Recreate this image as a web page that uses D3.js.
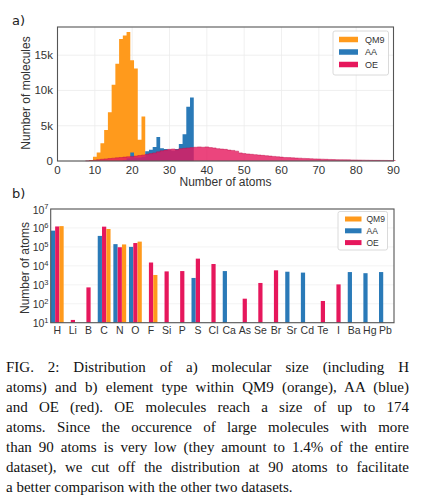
<!DOCTYPE html>
<html>
<head>
<meta charset="utf-8">
<script src="https://cdn.jsdelivr.net/npm/d3@7"></script>
<style>
  body { margin: 0; background: #fff; width: 423px; height: 498px; overflow: hidden; position: relative; }
  svg { position: absolute; left: 0; top: 0; }
  .cap { position: absolute; left: 6px; width: 403px; font-family: "Liberation Serif", "Times New Roman", serif;
         font-size: 15px; line-height: 20px; color: #111; text-align: justify; text-align-last: justify; white-space: nowrap; }
  .cap.last { text-align-last: left; }
</style>
</head>
<body>
<script>
// ---- panel a: molecule size histograms (one bin per atom count) ----
const atomTicks = [0, 10, 20, 30, 40, 50, 60, 70, 80, 90];
const countTicks = [0, 5000, 10000, 15000];

const qm9Start = 9;
const qm9Counts = [150, 600, 1200, 2500, 4400, 6900, 10800, 13800, 17300, 17800, 18300,
                   14300, 13100, 3000, 6300, 150, 50, 20];

const aaStart = 18;
const aaCounts = [100, 400, 1200, 500, 500, 600, 1400, 1600, 2000, 3400, 1800, 1700,
                  1600, 1500, 1700, 2400, 3800, 7700, 9000];

const oeStart = 8;
const oeCounts = [20, 60, 120, 180, 250, 300, 350, 400, 450, 500, 550, 600, 650, 700, 780,
                  850, 950, 1050, 1150, 1300, 1450, 1550, 1650, 1700, 1600, 1750, 1800, 1850,
                  1900, 1950, 2000, 1950, 2000, 1900, 1850, 1750, 1700, 1650, 1550, 1500, 1400,
                  1150, 1050, 1000, 950, 900, 850, 800, 750, 700, 650, 600, 550, 500, 480, 450,
                  420, 400, 370, 340, 320, 300, 280, 260, 240, 220, 200, 190, 180, 170, 160,
                  150, 140, 130, 120, 110, 100, 95, 90, 85, 80, 75, 70];

// ---- panel b: element counts ----
const elements = ["H", "Li", "B", "C", "N", "O", "F", "Si", "P", "S", "Cl", "Ca", "As", "Se",
                  "Br", "Sr", "Cd", "Te", "I", "Ba", "Hg", "Pb"];
const qm9Atoms = [1250000, null, null, 880000, 135000, 190000, 3300, null, null, null, null,
                  null, null, null, null, null, null, null, null, null, null, null];
const aaAtoms  = [720000, null, null, 380000, 140000, 100000, null, null, null, 2300, null,
                  5300, null, null, null, 4900, 4400, null, null, 4700, 4100, 4700];
const oeAtoms  = [1200000, 14, 730, 1170000, 96000, 160000, 15000, 5100, 5300, 24000, 12500,
                  null, 185, 1250, 5800, null, null, 140, 1050, null, null, null];
const logTicks = [1, 2, 3, 4, 5, 6, 7];

const seriesNames = ["QM9", "AA", "OE"];
const colors = { QM9: "#ff9a1c", AA: "#2a7ab8", OE: "#e6175c" };

const svg = d3.select("body").append("svg").attr("width", 423).attr("height", 498);
const sans = "'Liberation Sans', Arial, sans-serif";

// ================= panel a =================
const xa = d3.scaleLinear().domain([0, 90]).range([57.5, 393.5]);
const ya = d3.scaleLinear().domain([0, 19000]).range([161, 27]);

const ga = svg.append("g");
ga.selectAll(".vg").data(atomTicks).enter().append("line")
  .attr("x1", d => xa(d)).attr("x2", d => xa(d)).attr("y1", ya.range()[1]).attr("y2", ya.range()[0])
  .attr("stroke", "#ececec").attr("stroke-width", 0.8);
ga.selectAll(".hg").data(countTicks).enter().append("line")
  .attr("x1", xa.range()[0]).attr("x2", xa.range()[1]).attr("y1", d => ya(d)).attr("y2", d => ya(d))
  .attr("stroke", "#ececec").attr("stroke-width", 0.8);

function histPoints(start, counts) {
  const pts = counts.map((c, i) => ({ x: start + i - 0.5, y: c }));
  pts.push({ x: start + counts.length - 0.5, y: counts[counts.length - 1] });
  return pts;
}
const histArea = d3.area().curve(d3.curveStepAfter)
  .x(d => xa(d.x)).y0(ya(0)).y1(d => ya(d.y));
const histLine = d3.line().curve(d3.curveStepAfter)
  .x(d => xa(d.x)).y(d => ya(d.y));

const hists = [
  { name: "QM9", start: qm9Start, counts: qm9Counts, op: 1 },
  { name: "AA", start: aaStart, counts: aaCounts, op: 1 },
  { name: "OE", start: oeStart, counts: oeCounts, op: 0.8 }
];
hists.forEach(h => {
  const pts = histPoints(h.start, h.counts);
  ga.append("path").attr("d", histArea(pts)).attr("fill", colors[h.name]).attr("fill-opacity", h.op);
  if (h.name === "OE") {
    ga.append("path").attr("d", histLine(pts)).attr("fill", "none")
      .attr("stroke", "#c0104c").attr("stroke-width", 0.6).attr("stroke-opacity", 0.8);
  }
});

ga.append("rect").attr("x", xa.range()[0]).attr("y", ya.range()[1])
  .attr("width", xa.range()[1] - xa.range()[0]).attr("height", ya.range()[0] - ya.range()[1])
  .attr("fill", "none").attr("stroke", "#555").attr("stroke-width", 1.1);

ga.selectAll(".xt").data(atomTicks).enter().append("text")
  .attr("x", d => xa(d)).attr("y", 173.5).attr("text-anchor", "middle")
  .attr("font-family", sans).attr("font-size", 11.5).attr("fill", "#333").text(d => d);
ga.selectAll(".yt").data(countTicks).enter().append("text")
  .attr("x", 53).attr("y", d => ya(d) + 4).attr("text-anchor", "end")
  .attr("font-family", sans).attr("font-size", 11.5).attr("fill", "#333")
  .text(d => d === 0 ? "0" : (d / 1000) + "k");
ga.append("text").attr("x", 225.5).attr("y", 186).attr("text-anchor", "middle")
  .attr("font-family", sans).attr("font-size", 12).attr("fill", "#333").text("Number of atoms");
ga.append("text").attr("transform", "translate(29.5,93) rotate(-90)").attr("text-anchor", "middle")
  .attr("font-family", sans).attr("font-size", 12).attr("fill", "#333").text("Number of molecules");
svg.append("text").attr("x", 12).attr("y", 25).attr("font-family", "'DejaVu Sans', sans-serif")
  .attr("font-size", 13).attr("fill", "#222").text("a)");

function legend(g, x, y, w, h, rowY, swX, swW, swH, txtX, fs) {
  g.append("rect").attr("x", x).attr("y", y).attr("width", w).attr("height", h).attr("rx", 2)
    .attr("fill", "#fff").attr("fill-opacity", 0.9).attr("stroke", "#d0d0d0").attr("stroke-width", 0.8);
  seriesNames.forEach((n, i) => {
    g.append("rect").attr("x", swX).attr("y", rowY[i] - swH / 2).attr("width", swW).attr("height", swH)
      .attr("fill", colors[n]);
    g.append("text").attr("x", txtX).attr("y", rowY[i] + fs * 0.36).attr("font-family", sans)
      .attr("font-size", fs).attr("fill", "#333").text(n);
  });
}
legend(ga, 333, 31, 55.5, 44, [39.5, 52, 64.5], 339, 19, 5.5, 365, 9);

// ================= panel b =================
const xb = d3.scaleLinear().domain([-0.42, 21.55]).range([50.7, 394]);
const yb = d3.scaleLog().domain([10, 1e7]).range([322.7, 209]);
const step = xb(1) - xb(0);
const offsets = { AA: -0.275, OE: 0, QM9: 0.275 };
const barW = 0.27 * step;

const gb = svg.append("g");
gb.selectAll(".hgb").data(logTicks).enter().append("line")
  .attr("x1", xb.range()[0]).attr("x2", xb.range()[1])
  .attr("y1", d => yb(Math.pow(10, d))).attr("y2", d => yb(Math.pow(10, d)))
  .attr("stroke", "#f0f0f0").attr("stroke-width", 0.8);

const barSeries = [
  { name: "AA", vals: aaAtoms },
  { name: "OE", vals: oeAtoms },
  { name: "QM9", vals: qm9Atoms }
];
barSeries.forEach(s => {
  gb.selectAll(".b" + s.name).data(s.vals.map((v, i) => ({ v, i })).filter(d => d.v))
    .enter().append("rect")
    .attr("x", d => xb(d.i + offsets[s.name]) - barW / 2)
    .attr("width", barW)
    .attr("y", d => yb(d.v))
    .attr("height", d => yb(10) - yb(d.v))
    .attr("fill", colors[s.name]);
});

gb.append("rect").attr("x", xb.range()[0]).attr("y", yb.range()[1])
  .attr("width", xb.range()[1] - xb.range()[0]).attr("height", yb.range()[0] - yb.range()[1])
  .attr("fill", "none").attr("stroke", "#555").attr("stroke-width", 1.1);

gb.selectAll(".xtb").data(elements).enter().append("text")
  .attr("x", (d, i) => xb(i)).attr("y", 333.5).attr("text-anchor", "middle")
  .attr("font-family", sans).attr("font-size", 10.5).attr("fill", "#333").text(d => d);

const yt = gb.selectAll(".ytb").data(logTicks).enter().append("text")
  .attr("x", 48.5).attr("y", d => yb(Math.pow(10, d)) + 4.5).attr("text-anchor", "end")
  .attr("font-family", sans).attr("font-size", 10.5).attr("fill", "#333");
yt.append("tspan").text("10");
yt.append("tspan").attr("dy", -4.5).attr("font-size", 7.5).text(d => d);

gb.append("text").attr("transform", "translate(28.5,268) rotate(-90)").attr("text-anchor", "middle")
  .attr("font-family", sans).attr("font-size", 12).attr("fill", "#333").text("Number of atoms");
svg.append("text").attr("x", 12).attr("y", 198).attr("font-family", "'DejaVu Sans', sans-serif")
  .attr("font-size", 13).attr("fill", "#222").text("b)");

legend(gb, 338, 211.5, 49.5, 38.5, [219, 230.8, 242.6], 345, 16.5, 5, 366.5, 8.5);

// ================= caption =================
const captionLines = [
  "FIG. 2:  Distribution of a) molecular size (including H",
  "atoms) and b) element type within QM9 (orange), AA (blue)",
  "and OE (red).  OE molecules reach a size of up to 174",
  "atoms.  Since the occurence of large molecules with more",
  "than 90 atoms is very low (they amount to 1.4% of the entire",
  "dataset), we cut off the distribution at 90 atoms to facilitate",
  "a better comparison with the other two datasets."
];
d3.select("body").selectAll(".cap").data(captionLines).enter().append("div")
  .attr("class", (d, i) => i === captionLines.length - 1 ? "cap last" : "cap")
  .style("top", (d, i) => (357 + i * 20) + "px")
  .text(d => d);
</script>
</body>
</html>
